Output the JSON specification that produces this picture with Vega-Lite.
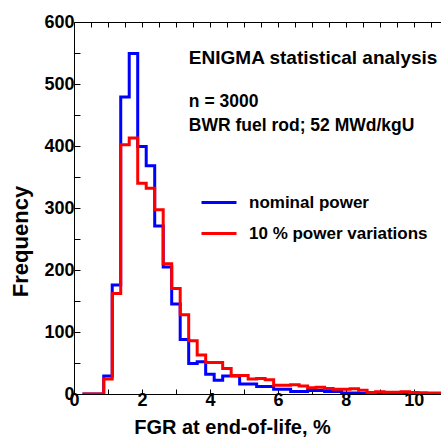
{
  "$schema": "https://vega.github.io/schema/vega-lite/v6.json",
  "width": 367,
  "height": 372,
  "autosize": {"type": "none"},
  "padding": {"left": 74, "top": 22, "right": 0, "bottom": 45},
  "config": {
    "font": "Liberation Sans",
    "view": {"stroke": null},
    "axis": {
      "labelFont": "Liberation Sans", "labelFontWeight": "bold", "labelFontSize": 18, "labelColor": "#000",
      "titleFont": "Liberation Sans", "titleFontWeight": "bold", "titleFontSize": 20, "titleColor": "#000",
      "domainColor": "#000", "tickColor": "#000", "grid": false
    },
    "legend": {
      "labelFont": "Liberation Sans", "labelFontWeight": "bold", "labelFontSize": 17, "labelColor": "#000", "labelLimit": 400
    }
  },
  "datasets": {
    "hist": [
      {"s": "nominal power", "x": 0.25, "y": 0},
      {"s": "nominal power", "x": 0.875, "y": 29},
      {"s": "nominal power", "x": 1.125, "y": 176},
      {"s": "nominal power", "x": 1.375, "y": 479},
      {"s": "nominal power", "x": 1.625, "y": 549},
      {"s": "nominal power", "x": 1.875, "y": 399},
      {"s": "nominal power", "x": 2.125, "y": 368},
      {"s": "nominal power", "x": 2.375, "y": 271},
      {"s": "nominal power", "x": 2.625, "y": 205},
      {"s": "nominal power", "x": 2.875, "y": 145},
      {"s": "nominal power", "x": 3.125, "y": 88},
      {"s": "nominal power", "x": 3.375, "y": 49},
      {"s": "nominal power", "x": 3.625, "y": 52},
      {"s": "nominal power", "x": 3.875, "y": 32},
      {"s": "nominal power", "x": 4.125, "y": 22},
      {"s": "nominal power", "x": 4.375, "y": 29},
      {"s": "nominal power", "x": 4.625, "y": 29},
      {"s": "nominal power", "x": 4.875, "y": 16},
      {"s": "nominal power", "x": 5.125, "y": 16},
      {"s": "nominal power", "x": 5.375, "y": 12},
      {"s": "nominal power", "x": 5.625, "y": 12},
      {"s": "nominal power", "x": 5.875, "y": 7.5},
      {"s": "nominal power", "x": 6.125, "y": 7.5},
      {"s": "nominal power", "x": 6.375, "y": 4},
      {"s": "nominal power", "x": 6.625, "y": 4},
      {"s": "nominal power", "x": 6.875, "y": 5.5},
      {"s": "nominal power", "x": 7.125, "y": 5.5},
      {"s": "nominal power", "x": 7.375, "y": 4},
      {"s": "nominal power", "x": 7.625, "y": 4},
      {"s": "nominal power", "x": 7.875, "y": 1.5},
      {"s": "nominal power", "x": 8.125, "y": 1.5},
      {"s": "nominal power", "x": 8.375, "y": 1},
      {"s": "nominal power", "x": 8.625, "y": 1},
      {"s": "nominal power", "x": 8.875, "y": 0.5},
      {"s": "nominal power", "x": 10.9, "y": 0.5},
      {"s": "10 % power variations", "x": 0.25, "y": 0},
      {"s": "10 % power variations", "x": 0.875, "y": 24},
      {"s": "10 % power variations", "x": 1.125, "y": 162},
      {"s": "10 % power variations", "x": 1.375, "y": 402},
      {"s": "10 % power variations", "x": 1.625, "y": 413},
      {"s": "10 % power variations", "x": 1.875, "y": 340},
      {"s": "10 % power variations", "x": 2.125, "y": 332},
      {"s": "10 % power variations", "x": 2.375, "y": 297},
      {"s": "10 % power variations", "x": 2.625, "y": 210},
      {"s": "10 % power variations", "x": 2.875, "y": 170},
      {"s": "10 % power variations", "x": 3.125, "y": 128},
      {"s": "10 % power variations", "x": 3.375, "y": 86},
      {"s": "10 % power variations", "x": 3.625, "y": 63},
      {"s": "10 % power variations", "x": 3.875, "y": 51},
      {"s": "10 % power variations", "x": 4.125, "y": 51},
      {"s": "10 % power variations", "x": 4.375, "y": 41},
      {"s": "10 % power variations", "x": 4.625, "y": 30},
      {"s": "10 % power variations", "x": 4.875, "y": 30},
      {"s": "10 % power variations", "x": 5.125, "y": 24},
      {"s": "10 % power variations", "x": 5.375, "y": 25},
      {"s": "10 % power variations", "x": 5.625, "y": 23},
      {"s": "10 % power variations", "x": 5.875, "y": 14},
      {"s": "10 % power variations", "x": 6.125, "y": 14},
      {"s": "10 % power variations", "x": 6.375, "y": 15},
      {"s": "10 % power variations", "x": 6.625, "y": 13},
      {"s": "10 % power variations", "x": 6.875, "y": 10},
      {"s": "10 % power variations", "x": 7.125, "y": 11},
      {"s": "10 % power variations", "x": 7.375, "y": 9},
      {"s": "10 % power variations", "x": 7.625, "y": 7.5},
      {"s": "10 % power variations", "x": 7.875, "y": 7.5},
      {"s": "10 % power variations", "x": 8.125, "y": 8.5},
      {"s": "10 % power variations", "x": 8.375, "y": 6},
      {"s": "10 % power variations", "x": 8.625, "y": 2.5},
      {"s": "10 % power variations", "x": 8.875, "y": 3.5},
      {"s": "10 % power variations", "x": 9.125, "y": 3},
      {"s": "10 % power variations", "x": 9.375, "y": 3},
      {"s": "10 % power variations", "x": 9.625, "y": 3.5},
      {"s": "10 % power variations", "x": 9.875, "y": 2.5},
      {"s": "10 % power variations", "x": 10.125, "y": 2},
      {"s": "10 % power variations", "x": 10.375, "y": 1.5},
      {"s": "10 % power variations", "x": 10.625, "y": 1.5},
      {"s": "10 % power variations", "x": 10.9, "y": 1.5}
    ]
  },
  "layer": [
    {
      "data": {"name": "hist"},
      "transform": [{"filter": "datum.s == 'nominal power'"}],
      "mark": {"type": "line", "interpolate": "step-after", "strokeWidth": 3, "clip": true},
      "encoding": {
        "x": {
          "field": "x", "type": "quantitative",
          "scale": {"domain": [0, 10.8], "nice": false, "zero": false},
          "axis": {
            "title": "FGR at end-of-life, %", "orient": "bottom",
            "values": [0,0.5,1,1.5,2,2.5,3,3.5,4,4.5,5,5.5,6,6.5,7,7.5,8,8.5,9,9.5,10,10.5],
            "format": "d",
            "labelExpr": "datum.value % 2 == 0 ? datum.label : ''",
            "tickSize": -5, "labelPadding": 2, "titlePadding": 8, "labelFlush": false,
            "titleX": 158, "titleAlign": "center"
          }
        },
        "y": {
          "field": "y", "type": "quantitative",
          "scale": {"domain": [0, 600], "nice": false},
          "axis": {
            "title": "Frequency",
            "values": [0,50,100,150,200,250,300,350,400,450,500,550,600],
            "labelExpr": "datum.value % 100 == 0 ? datum.label : ''",
            "tickSize": -6, "labelPadding": 6, "titlePadding": 11,
            "titleFontSize": 22, "titleY": 219, "titleAlign": "center"
          }
        },
        "color": {
          "field": "s", "type": "nominal",
          "scale": {"domain": ["nominal power", "10 % power variations"], "range": ["#0000ff", "#ff0000"]},
          "legend": {
            "title": null, "orient": "none", "legendX": 126, "legendY": 161.5,
            "symbolType": "stroke", "symbolSize": 1225, "symbolStrokeWidth": 3,
            "labelOffset": 11, "rowPadding": 4, "padding": 0
          }
        }
      }
    },
    {
      "data": {"name": "hist"},
      "transform": [{"filter": "datum.s == '10 % power variations'"}],
      "mark": {"type": "line", "interpolate": "step-after", "strokeWidth": 3, "clip": true},
      "encoding": {
        "x": {
          "field": "x", "type": "quantitative",
          "axis": {
            "orient": "top", "title": null, "labels": false,
            "values": [0,0.5,1,1.5,2,2.5,3,3.5,4,4.5,5,5.5,6,6.5,7,7.5,8,8.5,9,9.5,10,10.5],
            "tickSize": -5
          }
        },
        "y": {"field": "y", "type": "quantitative", "axis": null},
        "color": {"field": "s", "type": "nominal"}
      }
    },
    {
      "data": {"values": [{}]},
      "mark": {"type": "text", "align": "left", "baseline": "middle", "fontSize": 19, "fontWeight": "bold", "font": "Liberation Sans", "color": "#000"},
      "encoding": {
        "x": {"datum": 3.38, "type": "quantitative", "axis": null},
        "y": {"datum": 542, "type": "quantitative", "axis": null},
        "text": {"value": "ENIGMA statistical analysis"}
      }
    },
    {
      "data": {"values": [{}]},
      "mark": {"type": "text", "align": "left", "baseline": "middle", "fontSize": 17.5, "fontWeight": "bold", "font": "Liberation Sans", "color": "#000"},
      "encoding": {
        "x": {"datum": 3.38, "type": "quantitative", "axis": null},
        "y": {"datum": 471, "type": "quantitative", "axis": null},
        "text": {"value": "n = 3000"}
      }
    },
    {
      "data": {"values": [{}]},
      "mark": {"type": "text", "align": "left", "baseline": "middle", "fontSize": 17.5, "fontWeight": "bold", "font": "Liberation Sans", "color": "#000"},
      "encoding": {
        "x": {"datum": 3.38, "type": "quantitative", "axis": null},
        "y": {"datum": 432, "type": "quantitative", "axis": null},
        "text": {"value": "BWR fuel rod; 52 MWd/kgU"}
      }
    }
  ],
  "resolve": {"axis": {"x": "independent", "y": "independent"}}
}
